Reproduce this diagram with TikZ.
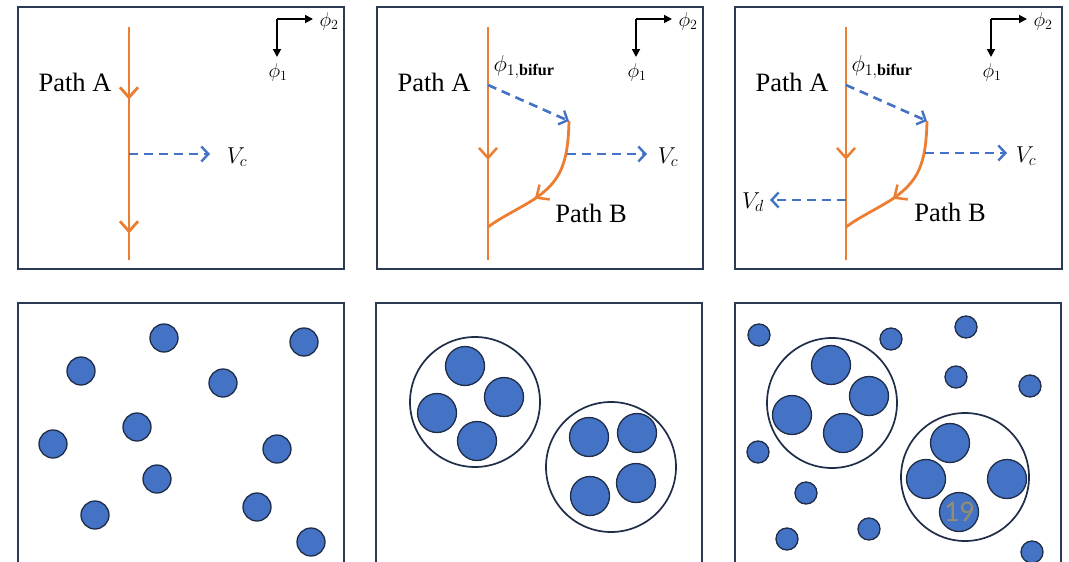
\RequirePackage{fix-cm}
\documentclass[tikz,border=0pt]{standalone}
\usepackage{fontspec}
\setmainfont{Liberation Serif}
\newfontfamily\numfont{Carlito}
\usetikzlibrary{arrows.meta,decorations.markings}
\definecolor{porange}{HTML}{ED7D31}
\definecolor{pblue}{HTML}{4472C4}
\definecolor{pnavy}{HTML}{2B3A55}
\definecolor{pdark}{HTML}{1F2D48}
\definecolor{pnum}{RGB}{150,140,112}
\tikzset{
  panel/.style={draw=pnavy, line width=2pt},
  pathline/.style={draw=porange, line width=2.8pt},
  midarrow/.style={postaction={decorate}, decoration={markings,
     mark=at position #1 with {\arrow{Straight Barb[length=10pt,width=18pt,line width=2.5pt]}}}},
  bluedash/.style={draw=pblue, line width=2.6pt, dash pattern=on 9pt off 6pt,
     -{Straight Barb[length=7pt,width=15pt,line width=2.4pt]}},
  axisarrow/.style={draw=black, line width=1.7pt, -{Triangle[length=8pt,width=8pt]}},
  pathlabel/.style={font=\fontsize{26.5}{30}\selectfont, inner sep=0pt},
  vlabel/.style={font=\fontsize{23}{26}\selectfont, inner sep=0pt},
  axlabel/.style={font=\fontsize{20}{22}\selectfont, inner sep=0pt},
  particle/.style={circle, fill=pblue, draw=pdark, line width=1.3pt, inner sep=0pt, minimum size=#1},
  cluster/.style={circle, draw=pdark, line width=1.7pt, inner sep=0pt, minimum size=130pt},
}
\begin{document}
\begin{tikzpicture}[x=1pt,y=-1pt]
\clip (0,0) rectangle (1069,562);
\fill[white] (0,0) rectangle (1069,562);

% ---------- top panels ----------
\draw[panel] (18,7) rectangle (344,269);
\draw[panel] (377,7) rectangle (703,269);
\draw[panel] (735,7) rectangle (1062,269);

% axes (three panels)
\foreach \cx/\n in {277/1,636/2,991/3}{
  \coordinate (o\n) at (\cx,19);
  \coordinate (ox\n) at (\cx+36,19);
  \coordinate (oy\n) at (\cx,57);
  \draw[axisarrow] (o\n) -- (ox\n);
  \draw[axisarrow] (o\n) -- (oy\n);
  \node[axlabel] (phitwo\n) at (\cx+52,21) {$\phi_2$};
  \node[axlabel] (phione\n) at (\cx+1,72) {$\phi_1$};
}

% panel 1
\coordinate (a1top) at (129,27);
\coordinate (a1bot) at (129,260);
\coordinate (a1c) at (129,154);
\draw[pathline, midarrow=0.31, midarrow=0.885] (a1top) -- (a1bot);
\node[pathlabel] (pa1) at (75,82) {Path A};
\node[vlabel] (vc1) at (237,157) {$V_c$};
\coordinate (vc1e) at (210,154);
\draw[bluedash] (a1c) -- (vc1e);

% panel 2
\coordinate (a2top) at (488,27);
\coordinate (a2bot) at (488,260);
\coordinate (b2s) at (488,85);
\coordinate (b2e) at (569,121);
\coordinate (b2m) at (533,200);
\coordinate (b2j) at (488,227);
\coordinate (c2s) at (567,154);
\coordinate (c2e) at (647,154);
\draw[pathline, midarrow=0.57] (a2top) -- (a2bot);
\draw[pathline, midarrow=0.62] (b2e) .. controls (568,165) and (560,182) .. (b2m)
   .. controls (515,211) and (500,218) .. (b2j);
\draw[bluedash] (b2s) -- (b2e);
\draw[bluedash] (c2s) -- (c2e);
\node[pathlabel] (pa2) at (434,82) {Path A};
\node[pathlabel] (pb2) at (591,213) {Path B};
\node[vlabel] (bif2) at (524,67) {$\phi_{1,\mathbf{bifur}}$};
\node[vlabel] (vc2) at (668,157) {$V_c$};

% panel 3
\coordinate (a3top) at (846,27);
\coordinate (a3bot) at (846,260);
\coordinate (b3s) at (846,85);
\coordinate (b3e) at (927,121);
\coordinate (b3m) at (891,200);
\coordinate (b3j) at (846,227);
\coordinate (c3s) at (925,153);
\coordinate (c3e) at (1007,153);
\coordinate (d3s) at (846,200);
\coordinate (d3e) at (770,200);
\draw[pathline, midarrow=0.57] (a3top) -- (a3bot);
\draw[pathline, midarrow=0.62] (b3e) .. controls (926,165) and (918,182) .. (b3m)
   .. controls (873,211) and (858,218) .. (b3j);
\draw[bluedash] (b3s) -- (b3e);
\draw[bluedash] (c3s) -- (c3e);
\draw[bluedash] (d3s) -- (d3e);
\node[pathlabel] (pa3) at (792,82) {Path A};
\node[pathlabel] (pb3) at (950,212) {Path B};
\node[vlabel] (bif3) at (882,67) {$\phi_{1,\mathbf{bifur}}$};
\node[vlabel] (vc3) at (1026,156) {$V_c$};
\node[vlabel] (vd3) at (753,202) {$V_d$};

% ---------- bottom panels ----------
\draw[panel] (18,303) rectangle (344,600);
\draw[panel] (376,303) rectangle (702,600);
\draw[panel] (735,303) rectangle (1061,600);

% panel 4: dispersed particles
\foreach \x/\y [count=\i] in {164/338,304/342,81/371,223/383,137/427,53/444,277/449,157/479,95/515,257/507,311/542}
  \node[particle=28pt] (s\i) at (\x,\y) {};

% panel 5: two clusters
\node[cluster] (k1) at (475,402) {};
\node[cluster] (k2) at (611,467) {};
\foreach \x/\y [count=\i] in {465/366,504/397,437/413,477/441,589/437,637/433,590/496,636/483}
  \node[particle=39pt] (m\i) at (\x,\y) {};

% panel 6: clusters and single particles
\node[cluster] (k3) at (832,403) {};
\node[cluster, minimum size=128pt] (k4) at (965,477) {};
\foreach \x/\y [count=\i] in {831/365,869/396,792/415,843/433,950/443,926/479,1007/479,959/512}
  \node[particle=39pt] (n\i) at (\x,\y) {};
\foreach \x/\y [count=\i] in {759/335,891/339,966/327,956/377,1030/386,758/452,806/493,869/529,787/539,1032/552}
  \node[particle=22pt] (t\i) at (\x,\y) {};

\node[font=\numfont\fontsize{30}{32}\selectfont, text=pnum, inner sep=0pt] (pg) at (959,512) {19};
\end{tikzpicture}
\end{document}
